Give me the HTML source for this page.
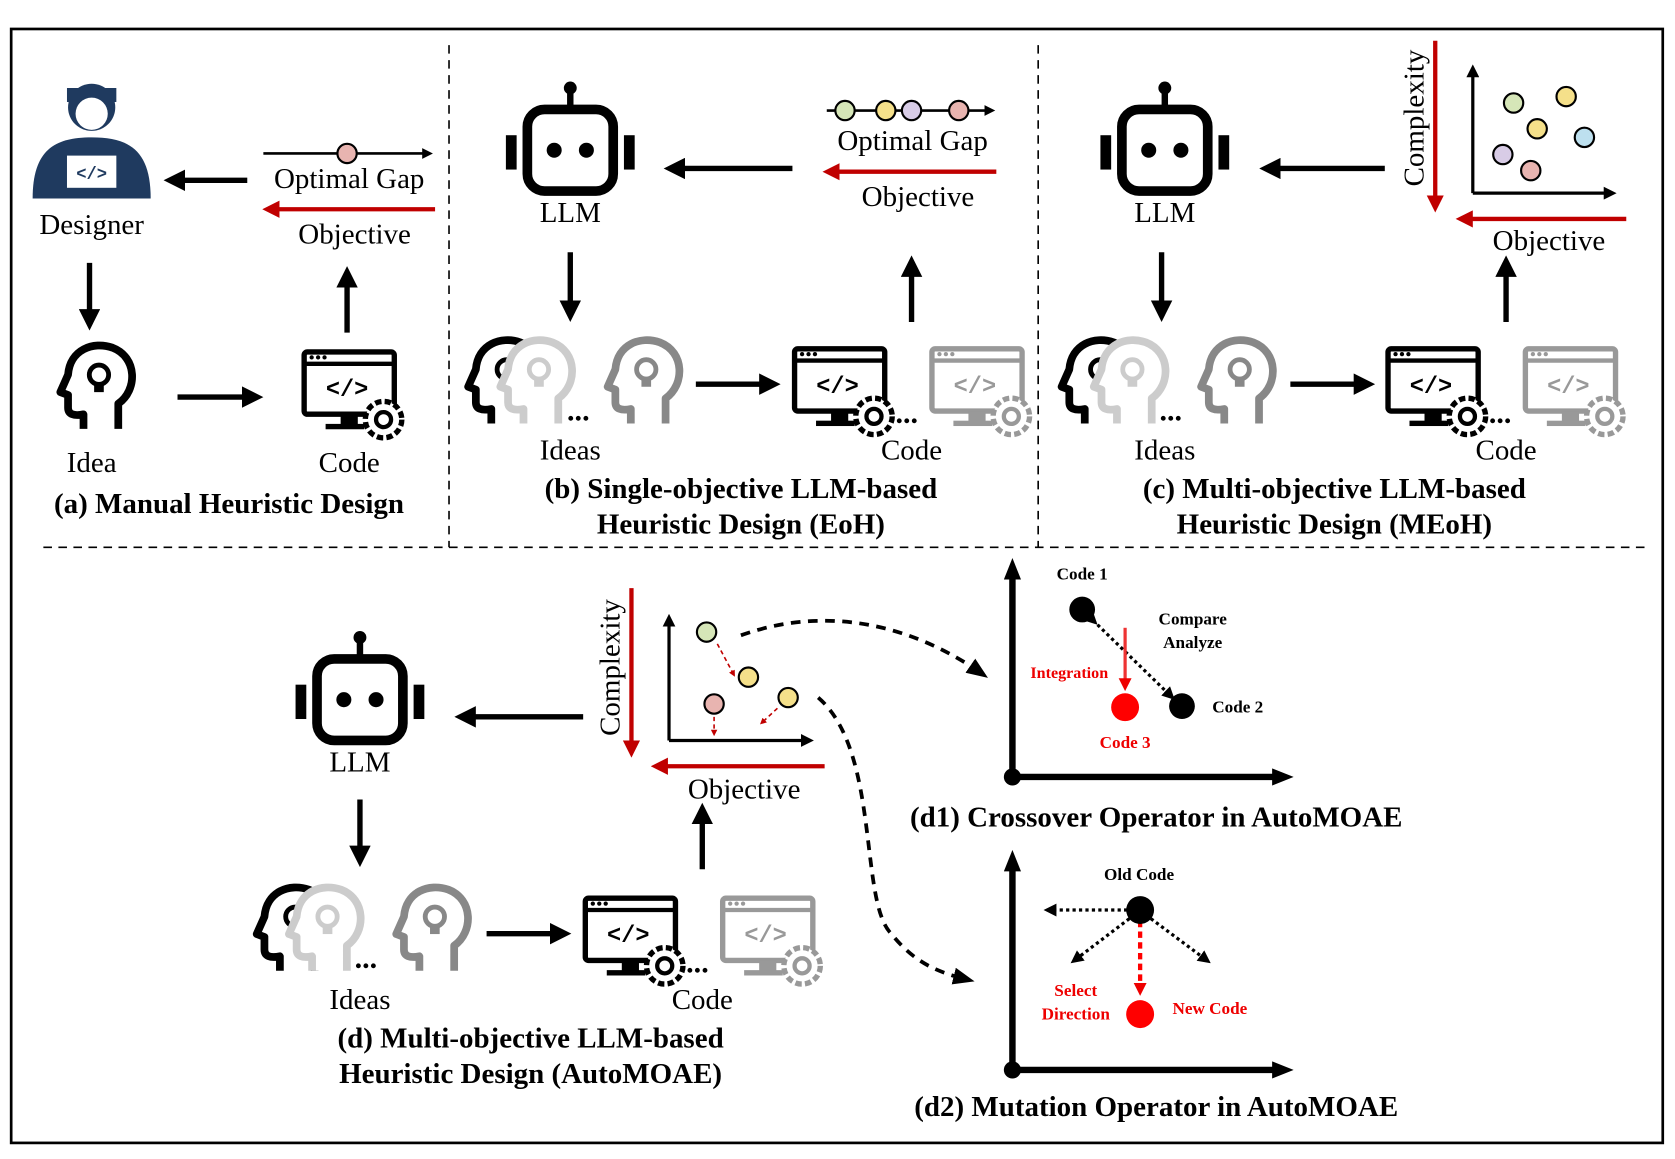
<!DOCTYPE html>
<html><head><meta charset="utf-8"><style>
html,body{margin:0;padding:0;background:#fff}
svg{display:block}
text{font-family:"Liberation Serif",serif;fill:#000}
.l{font-size:27px;text-anchor:middle}
.t{font-size:27px;font-weight:bold;text-anchor:middle}
.s{font-size:16px;font-weight:bold;text-anchor:middle}
</style></head><body>
<svg width="1675" height="1159" viewBox="0 0 1560 1080" xmlns="http://www.w3.org/2000/svg">
<defs>
<marker id="ak" markerWidth="4" markerHeight="4" refX="2" refY="2" orient="auto" markerUnits="strokeWidth"><path d="M0,0 L4,2 L0,4 Z" fill="#000"/></marker>
<marker id="ar" markerWidth="4" markerHeight="4" refX="2" refY="2" orient="auto" markerUnits="strokeWidth"><path d="M0,0 L4,2 L0,4 Z" fill="#c00000"/></marker>
<marker id="ak2" markerWidth="12" markerHeight="12" refX="6" refY="6" orient="auto" markerUnits="userSpaceOnUse"><path d="M0,0 L12,6 L0,12 Z" fill="#000"/></marker>
<marker id="ak3" markerWidth="20" markerHeight="16" refX="10" refY="8" orient="auto" markerUnits="userSpaceOnUse"><path d="M0,0 L20,8 L0,16 Z" fill="#000"/></marker>
<marker id="ar2" markerWidth="12" markerHeight="12" refX="6" refY="6" orient="auto" markerUnits="userSpaceOnUse"><path d="M0,0 L12,6 L0,12 Z" fill="#e00"/></marker>
<symbol id="robot" viewBox="-65 -65 130 130" overflow="visible">
<circle cx="0" cy="-58" r="6" fill="#000"/><line x1="0" y1="-58" x2="0" y2="-40" stroke="#000" stroke-width="6"/>
<rect x="-40" y="-38" width="80" height="76" rx="16" fill="#fff" stroke="#000" stroke-width="9"/>
<rect x="-60" y="-14" width="10" height="32" fill="#000"/><rect x="50" y="-14" width="10" height="32" fill="#000"/>
<circle cx="-15" cy="0" r="7" fill="#000"/><circle cx="15" cy="0" r="7" fill="#000"/>
</symbol>
<symbol id="head" viewBox="-50 -50 100 100" overflow="visible">
<path d="M22 44 L22 18 C42 4 42 -30 16 -40 C-4 -47 -28 -38 -30 -12 L-38 6 L-30 9 L-30 22 C-30 29 -24 31 -14 29 L-14 44" fill="#fff" stroke="currentColor" stroke-width="8" stroke-linejoin="round"/>
<circle cx="2" cy="-12" r="10" fill="none" stroke="currentColor" stroke-width="5"/><rect x="-3" y="-2" width="10" height="8" fill="currentColor"/>
</symbol>
<symbol id="comp" viewBox="-50 -45 100 90" overflow="visible">
<rect x="-42" y="-35" width="84" height="58" rx="3" fill="#fff" stroke="currentColor" stroke-width="5"/>
<line x1="-42" y1="-24" x2="42" y2="-24" stroke="currentColor" stroke-width="4"/>
<circle cx="-35" cy="-30" r="2" fill="currentColor"/><circle cx="-29" cy="-30" r="2" fill="currentColor"/><circle cx="-23" cy="-30" r="2" fill="currentColor"/>
<text x="-2" y="6" style="font-family:'Liberation Mono',monospace;font-size:22px;font-weight:bold;text-anchor:middle;fill:currentColor">&lt;/&gt;</text>
<rect x="-8" y="23" width="16" height="10" fill="currentColor"/><rect x="-22" y="32" width="36" height="5" fill="currentColor"/>
<circle cx="32" cy="28" r="17" fill="#fff" stroke="currentColor" stroke-width="5" stroke-dasharray="6 3"/><circle cx="32" cy="28" r="7" fill="none" stroke="currentColor" stroke-width="4"/>
</symbol>
</defs>
<rect x="10" y="27" width="1539" height="1038" fill="none" stroke="#000" stroke-width="2.5"/>
<g stroke="#000" stroke-width="1.5" stroke-dasharray="8 6" fill="none">
<line x1="418" y1="42" x2="418" y2="510"/><line x1="967" y1="42" x2="967" y2="510"/><line x1="40" y1="510" x2="1532" y2="510"/>
</g>
<!-- (a) -->
<g>
<circle cx="85" cy="100" r="22" fill="#1f3a5f"/><path d="M62 95 L62 82 L108 82 L108 95 Z" fill="#1f3a5f"/>
<circle cx="85" cy="106" r="15" fill="#fff"/><path d="M30 185 C30 140 50 128 85 128 C120 128 140 140 140 185 Z" fill="#1f3a5f"/>
<rect x="62" y="145" width="46" height="30" fill="#fff"/><text x="85" y="167" style="font-family:'Liberation Mono';font-size:16px;font-weight:bold;text-anchor:middle;fill:#1f3a5f">&lt;/&gt;</text>
</g>
<text class="l" x="85" y="218">Designer</text>
<line x1="230" y1="168" x2="162" y2="168" stroke="#000" stroke-width="5" marker-end="url(#ak)"/>
<line x1="245" y1="143" x2="398" y2="143" stroke="#000" stroke-width="2.5" marker-end="url(#ak)"/>
<circle cx="323" cy="143" r="9" fill="#e8b4b0" stroke="#000" stroke-width="2"/>
<text class="l" x="325" y="175">Optimal Gap</text>
<line x1="405" y1="195" x2="252" y2="195" stroke="#c00000" stroke-width="4" marker-end="url(#ar)"/>
<text class="l" x="330" y="227">Objective</text>
<line x1="83" y1="245" x2="83" y2="298" stroke="#000" stroke-width="5" marker-end="url(#ak)"/>
<line x1="323" y1="310" x2="323" y2="258" stroke="#000" stroke-width="5" marker-end="url(#ak)"/>
<use href="#head" x="45" y="315" width="90" height="90" color="#000"/>
<line x1="165" y1="370" x2="235" y2="370" stroke="#000" stroke-width="5" marker-end="url(#ak)"/>
<use href="#comp" x="275" y="318" width="100" height="90" color="#000"/>
<text class="l" x="85" y="440">Idea</text><text class="l" x="325" y="440">Code</text>
<text class="t" x="213" y="478">(a) Manual Heuristic Design</text>
<!-- (b) -->
<use href="#robot" x="466" y="75" width="130" height="130"/>
<text class="l" x="531" y="207">LLM</text>
<line x1="738" y1="157" x2="628" y2="157" stroke="#000" stroke-width="5" marker-end="url(#ak)"/>
<line x1="770" y1="103" x2="922" y2="103" stroke="#000" stroke-width="2.5" marker-end="url(#ak)"/>
<circle cx="787" cy="103" r="9" fill="#d6e6b8" stroke="#000" stroke-width="2"/><circle cx="825" cy="103" r="9" fill="#f5e08a" stroke="#000" stroke-width="2"/><circle cx="849" cy="103" r="9" fill="#d8cce6" stroke="#000" stroke-width="2"/><circle cx="893" cy="103" r="9" fill="#e8b4b0" stroke="#000" stroke-width="2"/>
<text class="l" x="850" y="140">Optimal Gap</text>
<line x1="928" y1="160" x2="774" y2="160" stroke="#c00000" stroke-width="4" marker-end="url(#ar)"/>
<text class="l" x="855" y="192">Objective</text>
<line x1="531" y1="235" x2="531" y2="290" stroke="#000" stroke-width="5" marker-end="url(#ak)"/>
<line x1="849" y1="300" x2="849" y2="248" stroke="#000" stroke-width="5" marker-end="url(#ak)"/>
<use href="#head" x="425" y="310" width="90" height="90" color="#000"/>
<use href="#head" x="455" y="310" width="90" height="90" color="#ccc"/>
<text x="528" y="392" style="font-size:28px;font-weight:bold">...</text>
<use href="#head" x="555" y="310" width="90" height="90" color="#888"/>
<line x1="648" y1="358" x2="717" y2="358" stroke="#000" stroke-width="5" marker-end="url(#ak)"/>
<use href="#comp" x="732" y="315" width="100" height="90" color="#000"/>
<text x="834" y="394" style="font-size:28px;font-weight:bold">...</text>
<use href="#comp" x="860" y="315" width="100" height="90" color="#999"/>
<text class="l" x="531" y="428">Ideas</text><text class="l" x="849" y="428">Code</text>
<text class="t" x="690" y="464">(b) Single-objective LLM-based</text>
<text class="t" x="690" y="497">Heuristic Design (EoH)</text>
<!-- (c) -->
<use href="#robot" x="1020" y="75" width="130" height="130"/>
<text class="l" x="1085" y="207">LLM</text>
<line x1="1290" y1="157" x2="1183" y2="157" stroke="#000" stroke-width="5" marker-end="url(#ak)"/>
<line x1="1337" y1="38" x2="1337" y2="190" stroke="#c00000" stroke-width="4" marker-end="url(#ar)"/>
<text class="l" x="0" y="0" transform="translate(1326,110) rotate(-90)">Complexity</text>
<line x1="1372" y1="180" x2="1372" y2="66" stroke="#000" stroke-width="3" marker-end="url(#ak2)"/>
<line x1="1372" y1="180" x2="1500" y2="180" stroke="#000" stroke-width="3" marker-end="url(#ak2)"/>
<g stroke="#000" stroke-width="2"><circle cx="1410" cy="96" r="9" fill="#d6e6b8"/><circle cx="1459" cy="90" r="9" fill="#f5e08a"/><circle cx="1432" cy="120" r="9" fill="#f5e08a"/><circle cx="1476" cy="128" r="9" fill="#bde0ef"/><circle cx="1400" cy="144" r="9" fill="#d8cce6"/><circle cx="1426" cy="159" r="9" fill="#e8b4b0"/></g>
<line x1="1515" y1="204" x2="1364" y2="204" stroke="#c00000" stroke-width="4" marker-end="url(#ar)"/>
<text class="l" x="1443" y="233">Objective</text>
<line x1="1082" y1="235" x2="1082" y2="290" stroke="#000" stroke-width="5" marker-end="url(#ak)"/>
<line x1="1403" y1="300" x2="1403" y2="248" stroke="#000" stroke-width="5" marker-end="url(#ak)"/>
<use href="#head" x="978" y="310" width="90" height="90" color="#000"/>
<use href="#head" x="1008" y="310" width="90" height="90" color="#ccc"/>
<text x="1080" y="392" style="font-size:28px;font-weight:bold">...</text>
<use href="#head" x="1108" y="310" width="90" height="90" color="#888"/>
<line x1="1202" y1="358" x2="1271" y2="358" stroke="#000" stroke-width="5" marker-end="url(#ak)"/>
<use href="#comp" x="1285" y="315" width="100" height="90" color="#000"/>
<text x="1387" y="394" style="font-size:28px;font-weight:bold">...</text>
<use href="#comp" x="1413" y="315" width="100" height="90" color="#999"/>
<text class="l" x="1085" y="428">Ideas</text><text class="l" x="1403" y="428">Code</text>
<text class="t" x="1243" y="464">(c) Multi-objective LLM-based</text>
<text class="t" x="1243" y="497">Heuristic Design (MEoH)</text>
<!-- (d) -->
<use href="#robot" x="270" y="587" width="130" height="130"/>
<text class="l" x="335" y="719">LLM</text>
<line x1="543" y1="668" x2="433" y2="668" stroke="#000" stroke-width="5" marker-end="url(#ak)"/>
<line x1="588" y1="548" x2="588" y2="698" stroke="#c00000" stroke-width="4" marker-end="url(#ar)"/>
<text class="l" x="0" y="0" transform="translate(577,622) rotate(-90)">Complexity</text>
<line x1="623" y1="690" x2="623" y2="578" stroke="#000" stroke-width="3" marker-end="url(#ak2)"/>
<line x1="623" y1="690" x2="752" y2="690" stroke="#000" stroke-width="3" marker-end="url(#ak2)"/>
<g stroke="#c00000" stroke-width="1.5" stroke-dasharray="4 3" fill="none">
<line x1="668" y1="600" x2="683" y2="628" marker-end="url(#ar)"/><line x1="665" y1="668" x2="665" y2="683" marker-end="url(#ar)"/><line x1="724" y1="660" x2="710" y2="673" marker-end="url(#ar)"/></g>
<g stroke="#000" stroke-width="2"><circle cx="658" cy="589" r="9" fill="#d6e6b8"/><circle cx="697" cy="631" r="9" fill="#f5e08a"/><circle cx="734" cy="650" r="9" fill="#f5e08a"/><circle cx="665" cy="656" r="9" fill="#e8b4b0"/></g>
<line x1="768" y1="714" x2="614" y2="714" stroke="#c00000" stroke-width="4" marker-end="url(#ar)"/>
<text class="l" x="693" y="744">Objective</text>
<line x1="335" y1="745" x2="335" y2="798" stroke="#000" stroke-width="5" marker-end="url(#ak)"/>
<line x1="654" y1="810" x2="654" y2="758" stroke="#000" stroke-width="5" marker-end="url(#ak)"/>
<use href="#head" x="228" y="820" width="90" height="90" color="#000"/>
<use href="#head" x="258" y="820" width="90" height="90" color="#ccc"/>
<text x="330" y="902" style="font-size:28px;font-weight:bold">...</text>
<use href="#head" x="358" y="820" width="90" height="90" color="#888"/>
<line x1="453" y1="870" x2="522" y2="870" stroke="#000" stroke-width="5" marker-end="url(#ak)"/>
<use href="#comp" x="537" y="827" width="100" height="90" color="#000"/>
<text x="639" y="906" style="font-size:28px;font-weight:bold">...</text>
<use href="#comp" x="665" y="827" width="100" height="90" color="#999"/>
<text class="l" x="335" y="940">Ideas</text><text class="l" x="654" y="940">Code</text>
<text class="t" x="494" y="976">(d) Multi-objective LLM-based</text>
<text class="t" x="494" y="1009">Heuristic Design (AutoMOAE)</text>
<!-- curved dashed -->
<path d="M690 592 C780 560 860 590 912 626" fill="none" stroke="#000" stroke-width="3.5" stroke-dasharray="9 7" marker-end="url(#ak3)"/>
<path d="M762 650 C820 700 800 840 830 870 C850 895 870 905 898 912" fill="none" stroke="#000" stroke-width="3.5" stroke-dasharray="9 7" marker-end="url(#ak3)"/>
<!-- d1 -->
<line x1="943" y1="724" x2="943" y2="530" stroke="#000" stroke-width="6" marker-end="url(#ak3)"/>
<line x1="943" y1="724" x2="1195" y2="724" stroke="#000" stroke-width="6" marker-end="url(#ak3)"/>
<circle cx="943" cy="724" r="8" fill="#000"/>
<text class="s" x="1008" y="540">Code 1</text>
<circle cx="1008" cy="568" r="12" fill="#000"/>
<line x1="1018" y1="578" x2="1090" y2="648" stroke="#000" stroke-width="3" stroke-dasharray="3 3" marker-start="url(#ak2)" marker-end="url(#ak2)"/>
<circle cx="1101" cy="658" r="12" fill="#000"/>
<text class="s" x="1153" y="664">Code 2</text>
<text class="s" x="1111" y="582">Compare</text><text class="s" x="1111" y="604">Analyze</text>
<line x1="1048" y1="585" x2="1048" y2="638" stroke="#e33" stroke-width="3" marker-end="url(#ar2)"/>
<text class="s" x="996" y="632" style="fill:#e00;font-size:15px">Integration</text>
<circle cx="1048" cy="659" r="13" fill="#f00"/>
<text class="s" x="1048" y="697" style="fill:#e00">Code 3</text>
<text class="t" x="1077" y="770">(d1) Crossover Operator in AutoMOAE</text>
<!-- d2 -->
<line x1="943" y1="997" x2="943" y2="802" stroke="#000" stroke-width="6" marker-end="url(#ak3)"/>
<line x1="943" y1="997" x2="1195" y2="997" stroke="#000" stroke-width="6" marker-end="url(#ak3)"/>
<circle cx="943" cy="997" r="8" fill="#000"/>
<text class="s" x="1061" y="820">Old Code</text>
<g stroke="#000" stroke-width="3" stroke-dasharray="3 3">
<line x1="1050" y1="848" x2="978" y2="848" marker-end="url(#ak2)"/>
<line x1="1052" y1="856" x2="1002" y2="894" marker-end="url(#ak2)"/>
<line x1="1072" y1="856" x2="1123" y2="894" marker-end="url(#ak2)"/></g>
<line x1="1062" y1="858" x2="1062" y2="922" stroke="#f00" stroke-width="4" stroke-dasharray="6 4" marker-end="url(#ar2)"/>
<circle cx="1062" cy="848" r="13" fill="#000"/>
<circle cx="1062" cy="945" r="13" fill="#f00"/>
<text class="s" x="1127" y="945" style="fill:#e00">New Code</text>
<text class="s" x="1002" y="928" style="fill:#e00">Select</text><text class="s" x="1002" y="950" style="fill:#e00">Direction</text>
<text class="t" x="1077" y="1040">(d2) Mutation Operator in AutoMOAE</text>
</svg>
</body></html>
